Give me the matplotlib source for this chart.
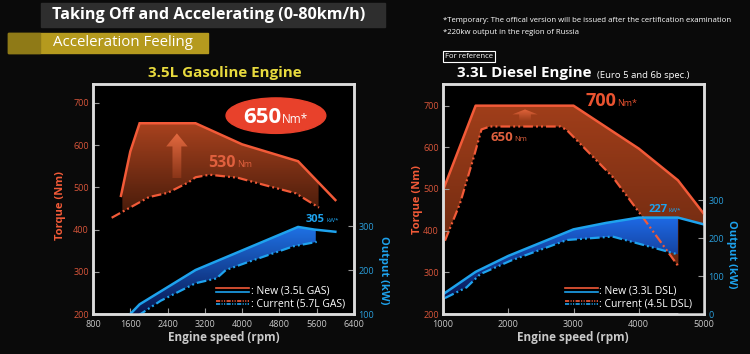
import matplotlib
matplotlib.use('Agg')
import matplotlib.pyplot as plt
import numpy as np
from matplotlib.patches import Ellipse, FancyArrow, Rectangle
from matplotlib.lines import Line2D
from matplotlib.legend_handler import HandlerBase
from matplotlib.colors import LinearSegmentedColormap

# ---- data ----
# 3.5L gasoline (new) vs 5.7L gasoline (current)
gas_new_rpm = [1400, 1600, 1800, 3000, 4000, 5200, 6000]
gas_new_torque = [480, 585, 652, 652, 602, 562, 470]
gas_cur_rpm = [1200, 2000, 2400, 2850, 3000, 3300, 3900, 4500, 5150, 5650]
gas_cur_torque = [428, 477, 487, 512, 524, 530, 523, 505, 486, 452]
gas_new_pw_rpm = [1600, 1800, 3000, 5200, 5550, 6000]
gas_new_power = [100, 122, 200, 298, 292, 287]
gas_cur_pw_rpm = [1750, 2250, 2700, 3000, 3450, 3650, 4150, 5100, 5600]
gas_cur_power = [95, 130, 154, 170, 181, 200, 219, 254, 264]

# 3.3L diesel (new) vs 4.5L diesel (current)
dsl_new_rpm = [1000, 1500, 3000, 4000, 4600, 5000]
dsl_new_torque = [497, 700, 700, 597, 521, 440]
dsl_cur_rpm = [1030, 1260, 1465, 1590, 1720, 2800, 2900, 3600, 4100, 4600]
dsl_cur_torque = [376, 465, 573, 643, 650, 650, 641, 529, 424, 316]
dsl_new_pw_rpm = [1000, 1500, 2000, 3000, 3500, 4000, 4600, 5000]
dsl_new_power = [52, 111, 153, 223, 240, 254, 254, 236]
dsl_cur_pw_rpm = [1030, 1360, 1570, 2030, 2900, 3600, 4220, 4600]
dsl_cur_power = [42, 70, 105, 140, 195, 204, 175, 157]

gas_xticks = [800, 1600, 2400, 3200, 4000, 4800, 5600, 6400]
dsl_xticks = [1000, 2000, 3000, 4000, 5000]
torque_ticks = [200, 300, 400, 500, 600, 700]
gas_pw_ticks = [100, 200, 300]
dsl_pw_ticks = [0, 100, 200, 300]

ORANGE = '#f25a38'
BLUE = '#1ea3ee'
TQ_LBL = '#d8553a'
PW_LBL = '#2a9fdc'
GRAY = '#c9c9c9'
FONT = 'Open Sans'

plt.rcParams['font.family'] = [FONT, 'DejaVu Sans']
plt.rcParams['lines.scale_dashes'] = False
DASHDOT = (7, 2.2, 1.4, 2.2, 1.4, 2.2)

fig = plt.figure(figsize=(7.5, 3.54), dpi=100)
fig.patch.set_facecolor('#0a0a0a')


def fx(px):
    return px / 750.0


def fy(py):
    return 1 - py / 354.0


def gradient_fill(ax, x, top, bottom, c_top, c_bot, tr=None, z=1):
    tr = tr or ax.transData
    poly = ax.fill_between(x, top, bottom, facecolor='none', edgecolor='none',
                           transform=tr, zorder=z)
    cmap = LinearSegmentedColormap.from_list('g', [c_bot, c_top])
    grad = np.linspace(0, 1, 256).reshape(-1, 1)
    im = ax.imshow(grad, cmap=cmap, aspect='auto', origin='lower',
                   extent=[min(x), max(x), min(bottom), max(top)],
                   transform=tr, zorder=z, interpolation='bilinear')
    im.set_clip_path(poly.get_paths()[0], transform=tr)


class TwoLine(HandlerBase):
    def create_artists(self, legend, orig, xd, yd, w, h, fs, trans):
        arts = []
        for frac, col in ((0.78, ORANGE), (0.28, BLUE)):
            ln = Line2D([-xd, -xd + w], [h * frac - yd] * 2)
            ln.update_from(orig)
            ln.set_color(col)
            ln.set_transform(trans)
            arts.append(ln)
        return arts


def setup(ax, ax2, xlim, ylim, y2lim, xticks, y2ticks):
    ax.set_facecolor('black')
    ax.set_xlim(*xlim)
    ax.set_ylim(*ylim)
    ax2.set_ylim(*y2lim)
    ax.set_xticks(xticks)
    ax.set_yticks(torque_ticks)
    ax2.set_yticks(y2ticks)
    ax.tick_params(axis='x', direction='in', length=4, color='#999999',
                   labelcolor=GRAY, labelsize=6.5, pad=4)
    ax.tick_params(axis='y', direction='in', length=4, color='#999999',
                   labelcolor=TQ_LBL, labelsize=6.5, pad=3)
    ax2.tick_params(axis='y', direction='in', length=4, color='#999999',
                    labelcolor=PW_LBL, labelsize=6.5, pad=3)
    for a in (ax, ax2):
        for s in a.spines.values():
            s.set_color('#dcdcdc')
            s.set_linewidth(1.8)


# ================= left chart: gasoline =================
axL = fig.add_axes([fx(93), fy(314), 261 / 750, 230 / 354])
axL2 = axL.twinx()
tq = axL.transData

xs = np.linspace(1430, 5640, 200)
gradient_fill(axL, xs, np.interp(xs, gas_new_rpm, gas_new_torque),
              np.interp(xs, gas_cur_rpm, gas_cur_torque), '#a8421e', '#4a1c0b')
arr = FancyArrow(2600, 522, 0, 75, width=190, head_width=460, head_length=31,
                 length_includes_head=False, lw=0)
axL.add_patch(arr)
arr.set_facecolor('none')
gradient_fill(axL, [2360, 2840], [628, 628], [522, 522], '#e46a40', '#8a3518', z=2)
axL.images[-1].set_clip_path(arr)

axL.add_patch(Ellipse((4725, 670), width=2140, height=84, color='#e8412b', zorder=3))
axL.text(4840, 653, '650', color='white', fontsize=16, fontweight='bold',
         ha='right', va='baseline', zorder=4)
axL.text(4850, 653, 'Nm*', color='white', fontsize=8.5, ha='left',
         va='baseline', zorder=4)
axL.text(3870, 548, '530', color='#e0603e', fontsize=11.5, fontweight='bold',
         ha='right', va='baseline')
axL.text(3890, 548, 'Nm', color='#e0603e', fontsize=6.5, ha='left', va='baseline')

xs = np.linspace(1600, 5580, 200)
gradient_fill(axL2, xs, np.interp(xs, gas_new_pw_rpm, gas_new_power),
              np.interp(xs, gas_cur_pw_rpm, gas_cur_power), '#1f72e6', '#08134a')
axL2.plot(gas_new_rpm, gas_new_torque, color=ORANGE, lw=1.8, transform=tq,
          solid_joinstyle='miter')
axL2.plot(gas_cur_rpm, gas_cur_torque, color=ORANGE, lw=1.6, dashes=DASHDOT,
          transform=tq)
axL2.plot(gas_new_pw_rpm, gas_new_power, color=BLUE, lw=1.8)
axL2.plot(gas_cur_pw_rpm, gas_cur_power, color=BLUE, lw=1.6, dashes=DASHDOT)
axL2.text(5780, 310, '305', color=BLUE, fontsize=8, fontweight='bold',
          ha='right', va='baseline')
axL2.text(5800, 310, 'kW*', color=BLUE, fontsize=4.5, ha='left', va='baseline')

h_new = Line2D([], [], lw=1.2)
h_cur = Line2D([], [], lw=1.2, dashes=(3, 1, 0.8, 1, 0.8, 1))
axL2.legend([h_new, h_cur], [': New (3.5L GAS)', ': Current (5.7L GAS)'],
            handler_map={Line2D: TwoLine()}, loc='lower right',
            bbox_to_anchor=(1.0, -0.02), frameon=False, fontsize=7.5,
            handlelength=3.2, handletextpad=0.1, labelspacing=0.15,
            labelcolor='white')
setup(axL, axL2, (800, 6400), (200, 745), (100, 623), gas_xticks, gas_pw_ticks)

# ================= right chart: diesel =================
axR = fig.add_axes([fx(443), fy(314), 261 / 750, 230 / 354])
axR2 = axR.twinx()
tq = axR.transData

xs = np.linspace(1000, 5000, 300)
gradient_fill(axR, xs, np.interp(xs, dsl_new_rpm, dsl_new_torque),
              np.interp(xs, dsl_cur_rpm, dsl_cur_torque), '#a03e1a', '#6a2810')
arr = FancyArrow(2257, 663, 0, 16, width=180, head_width=390, head_length=12,
                 lw=0)
axR.add_patch(arr)
arr.set_facecolor('none')
gradient_fill(axR, [2050, 2460], [692, 692], [663, 663], '#e8683e', '#9a3c1a', z=2)
axR.images[-1].set_clip_path(arr)
axR.text(3650, 699, '700', color='#ea5330', fontsize=13, fontweight='bold',
         ha='right', va='baseline')
axR.text(3665, 699, 'Nm*', color='#ea5330', fontsize=6.5, ha='left', va='baseline')
axR.text(2080, 615, '650', color='#e0603e', fontsize=9.5, fontweight='bold',
         ha='right', va='baseline')
axR.text(2095, 615, 'Nm', color='#e0603e', fontsize=5.5, ha='left', va='baseline')

xs = np.linspace(1000, 4600, 300)
gradient_fill(axR2, xs, np.interp(xs, dsl_new_pw_rpm, dsl_new_power),
              np.interp(xs, dsl_cur_pw_rpm, dsl_cur_power), '#1e6ae6', '#0a1550')
xm = np.linspace(4600, 5000, 50)
axR2.fill_between(xm, np.interp(xm, dsl_new_pw_rpm, dsl_new_power), 0,
                  color='black', lw=0)
axR2.plot(dsl_new_rpm, dsl_new_torque, color=ORANGE, lw=1.8, transform=tq)
axR2.plot(dsl_cur_rpm, dsl_cur_torque, color=ORANGE, lw=1.6, dashes=DASHDOT,
          transform=tq)
axR2.plot(dsl_new_pw_rpm, dsl_new_power, color=BLUE, lw=1.8)
axR2.plot(dsl_cur_pw_rpm, dsl_cur_power, color=BLUE, lw=1.6, dashes=DASHDOT)
axR2.text(4440, 268, '227', color=BLUE, fontsize=8, fontweight='bold',
          ha='right', va='baseline')
axR2.text(4460, 268, 'kW*', color=BLUE, fontsize=4.5, ha='left', va='baseline')
axR2.legend([h_new, h_cur], [': New (3.3L DSL)', ': Current (4.5L DSL)'],
            handler_map={Line2D: TwoLine()}, loc='lower right',
            bbox_to_anchor=(0.99, -0.02), frameon=False, fontsize=7.5,
            handlelength=3.2, handletextpad=0.1, labelspacing=0.15,
            labelcolor='white')
setup(axR, axR2, (1000, 5000), (200, 752), (0, 606), dsl_xticks, dsl_pw_ticks)

# ================= axis titles =================
for cx in (224, 573):
    fig.text(fx(cx), fy(338), 'Engine speed (rpm)', color=GRAY, fontsize=8.5,
             fontweight='bold', ha='center', va='center')
fig.text(fx(60), fy(205), 'Torque (Nm)', color=ORANGE, fontsize=8,
         fontweight='bold', rotation=90, ha='center', va='center')
fig.text(fx(417), fy(200), 'Torque (Nm)', color=ORANGE, fontsize=8,
         fontweight='bold', rotation=90, ha='center', va='center')
fig.text(fx(384), fy(270), 'Output (kW)', color=BLUE, fontsize=8,
         fontweight='bold', rotation=270, ha='center', va='center')
fig.text(fx(731), fy(254), 'Output (kW)', color=BLUE, fontsize=8,
         fontweight='bold', rotation=270, ha='center', va='center')

# ================= header =================
fig.patches.append(Rectangle((fx(41), fy(27)), fx(344), 24 / 354,
                             transform=fig.transFigure, color='#2e2e2e'))
fig.text(fx(52), fy(15), 'Taking Off and Accelerating (0-80km/h)', color='white',
         fontsize=11.6, fontweight='bold', va='center')
fig.patches.append(Rectangle((fx(8), fy(53)), fx(200), 20 / 354,
                             transform=fig.transFigure, color='#b59a1e'))
fig.patches.append(Rectangle((fx(8), fy(53)), fx(32), 20 / 354,
                             transform=fig.transFigure, color='#8f7a17'))
fig.text(fx(53), fy(43), 'Acceleration Feeling', color='white', fontsize=10.8,
         va='center')
fig.text(fx(225), fy(73), '3.5L Gasoline Engine', color='#e8da3e', fontsize=10.9,
         fontweight='bold', ha='center', va='center')

fig.text(fx(443), fy(21), '*Temporary: The offical version will be issued after '
         'the certification examination', color='white', fontsize=5.6, va='center')
fig.text(fx(443), fy(33), '*220kw output in the region of Russia', color='white',
         fontsize=5.6, va='center')
fig.text(fx(445), fy(56.5), 'For reference', color='white', fontsize=5.6,
         va='center', bbox=dict(boxstyle='square,pad=0.25', fc='none',
                                ec='white', lw=0.8))
fig.text(fx(457), fy(73), '3.3L Diesel Engine', color='white', fontsize=10.9,
         fontweight='bold', va='center')
fig.text(fx(597), fy(75), '(Euro 5 and 6b spec.)', color='white', fontsize=6.8,
         va='center')

fig.savefig('out.png', dpi=100, facecolor=fig.get_facecolor())
